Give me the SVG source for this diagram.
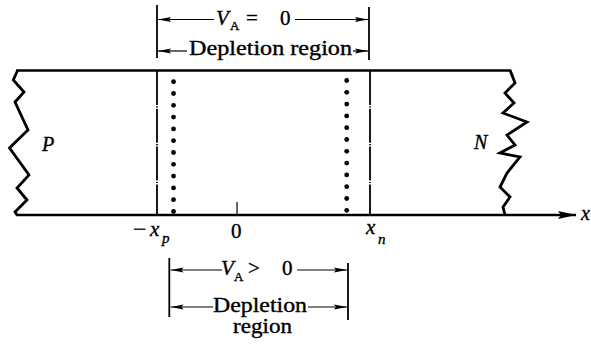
<svg xmlns="http://www.w3.org/2000/svg" width="591" height="344" viewBox="0 0 591 344">
<style>
.t{font-family:"Liberation Serif","Times New Roman",serif;fill:#000;stroke:#000;stroke-width:0.35}
.i{font-style:italic}
.thick{stroke:#000;stroke-width:2.6;fill:none;stroke-linejoin:miter}
.zig{stroke:#000;stroke-width:2.8;fill:none;stroke-linejoin:miter}
.bar{stroke:#000;stroke-width:1.8;fill:none}
.dim{stroke:#000;stroke-width:1.2;fill:none;marker-end:url(#ah)}
.dd{stroke:#000;stroke-width:1.8;fill:none;stroke-dasharray:34 1.3 1.2 1.3}
</style>
<defs>
<marker id="ah" viewBox="0 0 13 6" refX="13" refY="3" markerWidth="13" markerHeight="6" orient="auto" markerUnits="userSpaceOnUse">
<path d="M0,0.5 L13,3 L0,5.5 L2,3 z" fill="#000"/>
</marker>
<marker id="ax" viewBox="0 0 18 8" refX="18" refY="4" markerWidth="18" markerHeight="8" orient="auto" markerUnits="userSpaceOnUse">
<path d="M0,0 L18,4 L0,8 L3,4 z" fill="#000"/>
</marker>
</defs>
<rect width="591" height="344" fill="#fff"/>

<g id="bar">
<line class="thick" x1="16" y1="70.5" x2="511" y2="70.5"/>
<line x1="16" y1="215" x2="576" y2="215" stroke="#000" stroke-width="2.6" marker-end="url(#ax)"/>
<polyline class="zig" points="17.3,71 13.3,80 24,92 15,102 28,130 9.5,148 29,175 17,188 27,200 15,212 17,215"/>
<polyline class="zig" points="510,70 515,83 505,93 514,103 503,113 527,122 507,135 515,145 500,153 520,157 507,173 500,187 510,197 503,207 505,215"/>
<line x1="237" y1="202" x2="237" y2="214" stroke="#000" stroke-width="1.2"/>
<text class="t i" x="42" y="151" font-size="20">P</text>
<text class="t i" x="474" y="149" font-size="20">N</text>
<text class="t i" x="581" y="220" font-size="20">x</text>
</g>

<g id="edges">
<line class="dd" x1="157" y1="71" x2="157" y2="215"/>
<line class="dd" x1="370" y1="71" x2="370" y2="215"/>
</g>

<g id="dots-left" fill="#000">
<circle cx="173.5" cy="81.7" r="2.4"/><circle cx="173.5" cy="93.5" r="2.4"/><circle cx="173.5" cy="105.3" r="2.4"/><circle cx="173.5" cy="117.1" r="2.4"/><circle cx="173.5" cy="128.9" r="2.4"/><circle cx="173.5" cy="140.7" r="2.4"/><circle cx="173.5" cy="152.5" r="2.4"/><circle cx="173.5" cy="164.3" r="2.4"/><circle cx="173.5" cy="176.1" r="2.4"/><circle cx="173.5" cy="187.9" r="2.4"/><circle cx="173.5" cy="199.7" r="2.4"/><circle cx="173.5" cy="211.5" r="2.4"/>
</g>
<g id="dots-right" fill="#000">
<circle cx="346.7" cy="80.5" r="2.4"/><circle cx="346.7" cy="92.3" r="2.4"/><circle cx="346.7" cy="104.1" r="2.4"/><circle cx="346.7" cy="115.9" r="2.4"/><circle cx="346.7" cy="127.7" r="2.4"/><circle cx="346.7" cy="139.5" r="2.4"/><circle cx="346.7" cy="151.3" r="2.4"/><circle cx="346.7" cy="163.1" r="2.4"/><circle cx="346.7" cy="174.9" r="2.4"/><circle cx="346.7" cy="186.7" r="2.4"/><circle cx="346.7" cy="198.5" r="2.4"/><circle cx="346.7" cy="210.3" r="2.4"/>
</g>

<g id="axis-labels">
<text class="t" x="133" y="237" font-size="24">−</text>
<text class="t i" x="150" y="236" font-size="21">x</text>
<text class="t i" x="162" y="243" font-size="15">p</text>
<text class="t" x="231" y="238" font-size="21">0</text>
<text class="t i" x="366" y="234" font-size="21">x</text>
<text class="t i" x="378" y="244" font-size="15">n</text>
</g>

<g id="dim-equilibrium">
<line class="bar" x1="157" y1="5" x2="157" y2="58"/>
<line class="bar" x1="369" y1="7" x2="369" y2="60"/>
<line class="dim" x1="214" y1="19.5" x2="158" y2="19.5"/>
<line class="dim" x1="295" y1="19.5" x2="368" y2="19.5"/>
<line class="dim" x1="187" y1="51" x2="158" y2="51"/>
<line class="dim" x1="353" y1="51" x2="368" y2="51"/>
<text class="t i" x="216" y="25" font-size="21">V</text>
<text class="t" x="230" y="30" font-size="13">A</text>
<text class="t" x="246" y="25" font-size="21">=</text>
<text class="t" x="280" y="25" font-size="21">0</text>
<text class="t" x="189" y="55" font-size="20" textLength="163" lengthAdjust="spacingAndGlyphs">Depletion region</text>
</g>

<g id="dim-forward">
<line class="bar" x1="169.3" y1="258" x2="169.3" y2="317"/>
<line class="bar" x1="348" y1="263" x2="348" y2="320"/>
<line class="dim" x1="222" y1="270" x2="170.5" y2="270"/>
<line class="dim" x1="297" y1="270" x2="347" y2="270"/>
<line class="dim" x1="213" y1="307" x2="170.5" y2="307"/>
<line class="dim" x1="308" y1="307" x2="347" y2="307"/>
<text class="t i" x="221" y="275" font-size="21">V</text>
<text class="t" x="234" y="281" font-size="13">A</text>
<text class="t" x="248" y="275" font-size="21">&gt;</text>
<text class="t" x="282" y="275" font-size="21">0</text>
<text class="t" x="213" y="312" font-size="20" textLength="94" lengthAdjust="spacingAndGlyphs">Depletion</text>
<text class="t" x="233" y="333" font-size="20" textLength="59" lengthAdjust="spacingAndGlyphs">region</text>
</g>
</svg>
